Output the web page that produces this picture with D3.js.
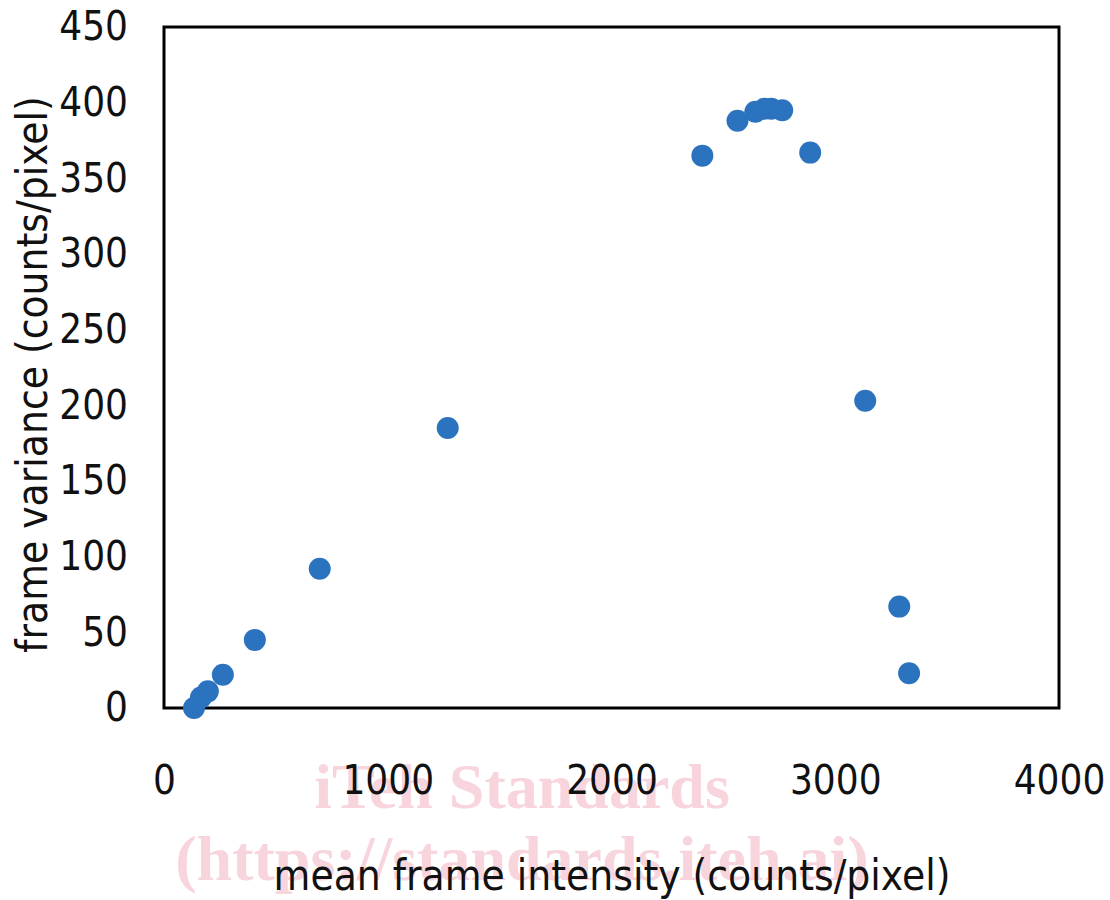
<!DOCTYPE html>
<html>
<head>
<meta charset="utf-8">
<script src="https://cdn.jsdelivr.net/npm/d3@7/dist/d3.min.js"></script>
<style>
  html, body { margin: 0; padding: 0; background: #fff; }
  .tick text { font-family: "DejaVu Sans"; font-stretch: condensed; }
</style>
</head>
<body>
<div id="chart"></div>
<script>
const meanIntensity = [134, 165, 196, 263, 406, 696, 1268, 2406, 2563, 2643, 2683, 2714, 2763, 2888, 3134, 3286, 3330];
const frameVariance = [0, 7, 11, 22, 45, 92, 185, 365, 388, 394, 396, 396, 395, 367, 203, 67, 23];
const xTicks = [0, 1000, 2000, 3000, 4000];
const yTicks = [0, 50, 100, 150, 200, 250, 300, 350, 400, 450];

const W = 1110, H = 900, M = { t: 27, r: 51, b: 192, l: 164 };
const svg = d3.select('#chart').append('svg').attr('width', W).attr('height', H);

const x = d3.scaleLinear().domain([0, 4000]).range([M.l, W - M.r]);
const y = d3.scaleLinear().domain([0, 450]).range([H - M.b, M.t]);

// watermark
const wm = svg.append('g').attr('fill', '#f8d5dd').attr('font-family', 'Liberation Serif').attr('font-weight', 'bold').attr('text-anchor', 'middle');
wm.append('text').attr('x', 522).attr('y', 808).attr('font-size', 64).text('iTeh Standards');
wm.append('text').attr('x', 522).attr('y', 880).attr('font-size', 64).text('(https://standards.iteh.ai)');

svg.append('g').attr('transform', `translate(0,${H - M.b})`)
  .call(d3.axisBottom(x).tickValues(xTicks).tickSize(0).tickPadding(58).tickFormat(d3.format('d')))
  .call(g => g.select('.domain').remove())
  .selectAll('text').attr('font-size', 40).attr('fill', '#111');

svg.append('g').attr('transform', `translate(${M.l},0)`)
  .call(d3.axisLeft(y).tickValues(yTicks).tickSize(0).tickPadding(36))
  .call(g => g.select('.domain').remove())
  .selectAll('text').attr('font-size', 40).attr('fill', '#111');

// plot frame
svg.append('rect').attr('x', M.l).attr('y', M.t)
  .attr('width', W - M.r - M.l).attr('height', H - M.b - M.t)
  .attr('fill', 'none').attr('stroke', '#000').attr('stroke-width', 3);

const pts = meanIntensity.map((v, i) => ({ x: v, y: frameVariance[i] }));
svg.selectAll('circle.pt').data(pts).enter().append('circle')
  .attr('class', 'pt')
  .attr('cx', d => x(d.x)).attr('cy', d => y(d.y)).attr('r', 11)
  .attr('fill', '#2b73be');

svg.append('text').attr('x', 612).attr('y', 890).attr('text-anchor', 'middle')
  .attr('font-family', 'DejaVu Sans').attr('font-stretch', 'condensed').attr('font-size', 42).attr('fill', '#111')
  .text('mean frame intensity (counts/pixel)');

svg.append('text').attr('transform', `translate(47,${(92 + 657) / 2}) rotate(-90)`).attr('text-anchor', 'middle')
  .attr('font-family', 'DejaVu Sans').attr('font-stretch', 'condensed').attr('font-size', 42).attr('fill', '#111')
  .text('frame variance (counts/pixel)');
</script>
</body>
</html>
